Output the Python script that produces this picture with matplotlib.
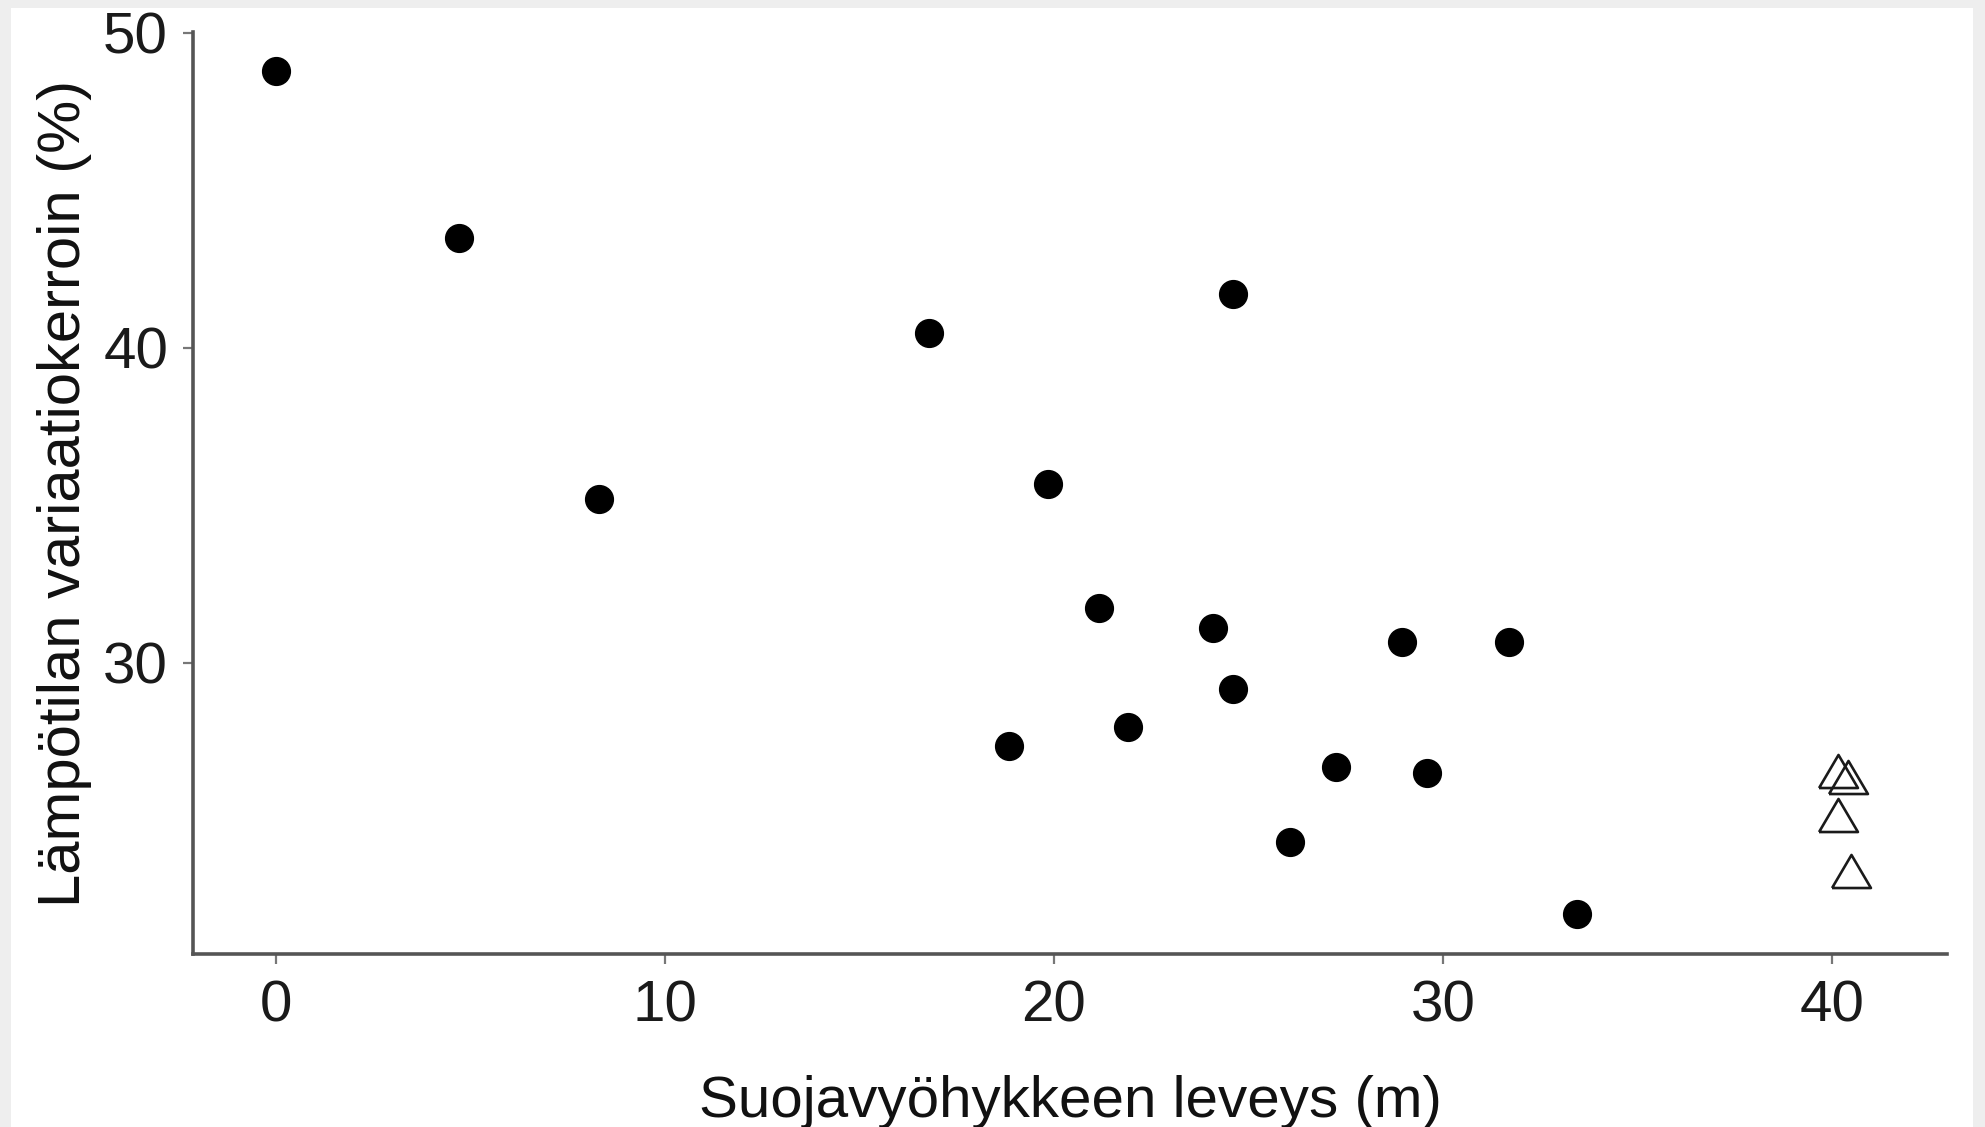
import matplotlib
matplotlib.use("Agg")
import matplotlib.pyplot as plt
from matplotlib.patches import Rectangle

# Data
width_m = [0.0, 4.7, 8.3, 16.8, 24.6, 19.85, 21.15, 24.1, 28.95, 31.7,
           24.6, 21.9, 18.85, 27.25, 29.6, 26.07, 33.45]
cv_pct = [48.8, 43.5, 35.2, 40.48, 41.72, 35.69, 31.74, 31.12, 30.66, 30.66,
          29.16, 27.98, 27.37, 26.71, 26.5, 24.33, 22.02]

ref_width = [40.15, 40.41, 40.15, 40.49]
ref_cv = [26.57, 26.38, 25.17, 23.4]

xticks = [0, 10, 20, 30, 40]
yticks = [30, 40, 50]
xlabel = "Suojavyöhykkeen leveys (m)"
ylabel = "Lämpötilan variaatiokerroin (%)"

W, H = 1985, 1127
plt.rcParams['font.family'] = ['Liberation Sans', 'DejaVu Sans']
fig = plt.figure(figsize=(W / 100, H / 100), dpi=100, facecolor='#eeeeee')
bg = Rectangle((11 / W, 0), (1973 - 11) / W, (H - 8) / H,
               transform=fig.transFigure, facecolor='white',
               edgecolor='none', zorder=-10)
fig.add_artist(bg)

ax = fig.add_axes([193 / W, (H - 954) / H, (1947 - 193) / W, (954 - 32) / H])
ax.set_zorder(5)
ax.set_facecolor('none')

ax.plot(width_m, cv_pct, linestyle='none', marker='o', markersize=20,
        color='black', clip_on=False, zorder=3)
tri = [(-1, -0.85), (1, -0.85), (0, 0.85), (-1, -0.85)]
ax.plot(ref_width, ref_cv, linestyle='none', marker=tri, markersize=28,
        markerfacecolor='none', markeredgecolor='#1a1a1a', markeredgewidth=1.9,
        clip_on=False, zorder=3)

ax.set_xlim(-2.134, 42.96)
ax.set_ylim(20.76, 50.03)
ax.set_xticks(xticks)
ax.set_yticks(yticks)
ax.set_xticklabels([str(t) for t in xticks])
ax.set_yticklabels([str(t) for t in yticks])

for s in ['top', 'right']:
    ax.spines[s].set_visible(False)
for s in ['left', 'bottom']:
    ax.spines[s].set_color('#555555')
    ax.spines[s].set_linewidth(2.6)

ax.tick_params(axis='both', length=7, width=1.6, color='#777777',
               labelsize=42, labelcolor='#1a1a1a', pad=11)

ax.set_xlabel(xlabel, fontsize=42, color='#111111', labelpad=30)
ax.set_ylabel(ylabel, fontsize=43, color='#111111', labelpad=8)

fig.savefig('out.png', dpi=100, facecolor=fig.get_facecolor())
